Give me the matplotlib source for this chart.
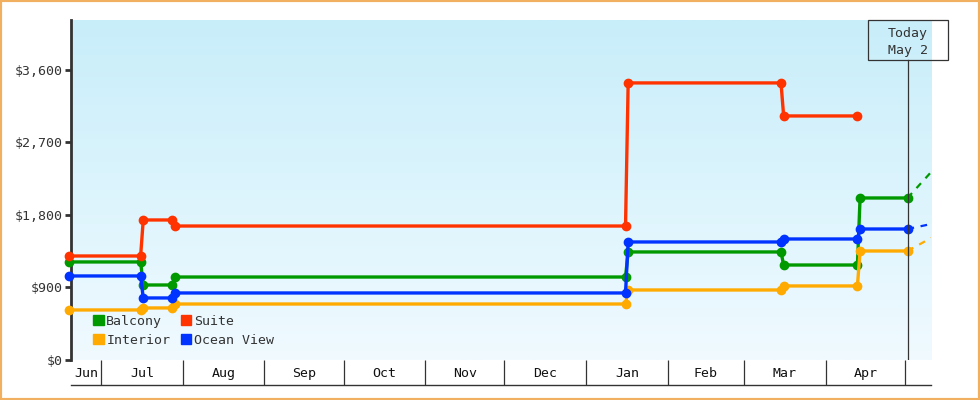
import numpy as np
import matplotlib.pyplot as plt
import matplotlib.dates as mdates
from matplotlib.patches import Patch, Rectangle
from matplotlib.lines import Line2D
from datetime import datetime

# price observations (date, price) per cabin type
balcony_dates = ["2023-06-19", "2023-07-16", "2023-07-17", "2023-07-28", "2023-07-29",
                 "2024-01-16", "2024-01-17", "2024-03-15", "2024-03-16",
                 "2024-04-13", "2024-04-14", "2024-05-02"]
balcony_prices = [1217, 1217, 931, 931, 1030, 1030, 1341, 1341, 1179, 1179, 2011, 2011]

suite_dates = ["2023-06-19", "2023-07-16", "2023-07-17", "2023-07-28", "2023-07-29",
               "2024-01-16", "2024-01-17", "2024-03-15", "2024-03-16", "2024-04-13"]
suite_prices = [1291, 1291, 1738, 1738, 1663, 1663, 3439, 3439, 3029, 3029]

interior_dates = balcony_dates
interior_prices = [621, 621, 646, 646, 695, 695, 869, 869, 919, 919, 1353, 1353]

ocean_dates = balcony_dates
ocean_prices = [1043, 1043, 770, 770, 832, 832, 1465, 1465, 1502, 1502, 1626, 1626]

# projection after today
proj_dates = ["2024-05-02", "2024-05-11"]
balcony_proj = [2011, 2334]
interior_proj = [1353, 1515]
ocean_proj = [1626, 1688]

today = "2024-05-02"
months = ["Jun", "Jul", "Aug", "Sep", "Oct", "Nov", "Dec", "Jan", "Feb", "Mar", "Apr"]
yticks = [0, 900, 1800, 2700, 3600]

GREEN = "#009900"
RED = "#ff3300"
ORANGE = "#ffaa00"
BLUE = "#0033ff"
DARK = "#333333"
MONO = "DejaVu Sans Mono"

def to_dt(lst):
    return [datetime.strptime(d, "%Y-%m-%d") for d in lst]

fig = plt.figure(figsize=(9.8, 4.0), dpi=100)
ax = fig.add_axes([71 / 980, 40 / 400, 860 / 980, 340 / 400])

x0 = datetime(2023, 6, 19, 14)
x1 = datetime(2024, 5, 10, 22)
ax.set_xlim(x0, x1)
ax.set_ylim(0, 4220)

# gradient background
grad = np.linspace(0, 1, 256).reshape(-1, 1)
top = np.array([200, 238, 250]) / 255
bot = np.array([240, 250, 255]) / 255
img = top + (bot - top) * grad[..., None]
ax.imshow(img, extent=[0, 1, 0, 1], transform=ax.transAxes, aspect="auto", zorder=0)

series = [
    (balcony_dates, balcony_prices, GREEN),
    (interior_dates, interior_prices, ORANGE),
    (suite_dates, suite_prices, RED),
    (ocean_dates, ocean_prices, BLUE),
]
for dates, prices, col in series:
    ax.plot(to_dt(dates), prices, color=col, lw=2.4, marker="o", ms=6,
            solid_joinstyle="miter", zorder=3, clip_on=False)

for proj, col in [(balcony_proj, GREEN), (interior_proj, ORANGE), (ocean_proj, BLUE)]:
    ax.plot(to_dt(proj_dates), proj, color=col, lw=1.6, ls=(0, (3, 3)), zorder=3)

# today marker
td = to_dt([today])[0]
ax.plot([td, td], [0, 1 - 40 / 340], color=DARK, lw=0.9,
        transform=ax.get_xaxis_transform(), zorder=4)
xpix = ax.transData.transform((mdates.date2num(td), 0))[0]
fig.patches.append(Rectangle(((xpix - 40) / 980, 340 / 400), 80 / 980, 40 / 400,
                             fill=False, edgecolor=DARK, lw=0.9,
                             transform=fig.transFigure))
fig.text((xpix + 20) / 980, 358 / 400, "Today\nMay 2", ha="right", va="center",
         fontsize=9.5, family=MONO, color=DARK, linespacing=1.4)

# axes styling
for s in ["top", "right", "bottom"]:
    ax.spines[s].set_visible(False)
ax.spines["left"].set_color(DARK)
ax.spines["left"].set_linewidth(2)

ax.set_yticks(yticks)
ax.set_yticklabels([f"${v:,}" for v in yticks], family=MONO, fontsize=9.5, color=DARK)
ax.tick_params(axis="y", length=4, width=2, color=DARK, pad=2)

# month strip
bounds = []
d = datetime(2023, 7, 1)
while d <= x1:
    bounds.append(d)
    d = datetime(d.year + (d.month == 12), d.month % 12 + 1, 1)
ax.set_xticks(bounds)
ax.set_xticklabels([])
ax.tick_params(axis="x", which="major", length=18, width=0.9, color=DARK)

centers = []
edges = [x0] + bounds
for a, b in zip(edges[:-1], edges[1:]):
    centers.append(a + (b - a) / 2)
ax.set_xticks(centers, minor=True)
ax.set_xticklabels(months, minor=True, family=MONO, fontsize=9.5, color="#111111")
ax.tick_params(axis="x", which="minor", length=0, pad=5)

ax.add_line(Line2D([0, 1], [-25 / 340, -25 / 340], transform=ax.transAxes,
                   color=DARK, lw=1, clip_on=False))

handles = [Patch(color=GREEN, label="Balcony"), Patch(color=ORANGE, label="Interior"),
           Patch(color=RED, label="Suite"), Patch(color=BLUE, label="Ocean View")]
ax.legend(handles=handles, ncol=2, loc="lower left", bbox_to_anchor=(0.018, 0.02),
          frameon=False, prop={"family": MONO, "size": 9.5}, handlelength=0.8,
          handleheight=0.8, handletextpad=0.2, columnspacing=0.8, labelspacing=0.45,
          borderpad=0, labelcolor=DARK)

# orange frame around the figure
fig.patches.append(Rectangle((0, 0), 1, 1, fill=False, edgecolor="#f0b060", lw=3,
                             transform=fig.transFigure))

fig.savefig("out.png", dpi=100)
